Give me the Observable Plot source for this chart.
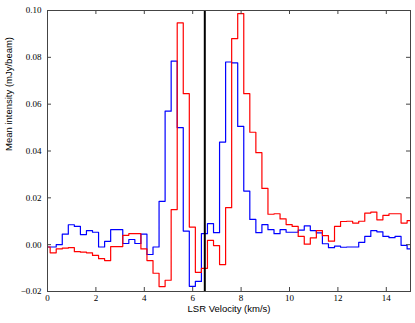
<!DOCTYPE html>
<html><head><meta charset="utf-8">
<script src="https://cdn.jsdelivr.net/npm/d3@7"></script>
<script src="https://cdn.jsdelivr.net/npm/@observablehq/plot@0.6"></script>
<style>body{margin:0;background:#fff}</style>
</head><body><div id="chart"></div><script>
// channel left edges (km/s)
const velocity = [-0.14, 0.11, 0.36, 0.61, 0.86, 1.11, 1.36, 1.61, 1.86, 2.11, 2.36, 2.61, 2.86, 3.11, 3.36, 3.61, 3.86, 4.11, 4.36, 4.61, 4.86, 5.11, 5.36, 5.61, 5.86, 6.11, 6.36, 6.61, 6.86, 7.11, 7.36, 7.61, 7.86, 8.11, 8.36, 8.61, 8.86, 9.11, 9.36, 9.61, 9.86, 10.11, 10.36, 10.61, 10.86, 11.11, 11.36, 11.61, 11.86, 12.11, 12.36, 12.61, 12.86, 13.11, 13.36, 13.61, 13.86, 14.11, 14.36, 14.61, 14.86, 15.11];
const blueSeries = [-0.001, -0.001, 0.0, 0.0045, 0.0085, 0.0078, 0.0043, 0.006, 0.0053, -0.001,
  0.0014, 0.0064, 0.0064, 0.0005, 0.0022, 0.0005, 0.0045, -0.0042, -0.001, 0.0185,
  0.057, 0.0784, 0.050, 0.0058, -0.0178, -0.0157, 0.0047, 0.009, 0.0051, 0.0438,
  0.078, 0.0776, 0.0505, 0.0229, 0.0108, 0.0051, 0.0086, 0.0064, 0.0047, 0.0064,
  0.0053, 0.0053, 0.0062, 0.008, 0.006, 0.005, 0.0004, -0.0013, -0.0006, -0.0011,
  -0.001, -0.001, 0.001, 0.0035, 0.006, 0.0055, 0.0035, 0.003, 0.0035, -0.0003,
  -0.0018];
const redSeries = [-0.001, -0.0035, -0.0018, -0.0015, -0.0013, -0.003, -0.0032, -0.0035, -0.0046, -0.006,
  -0.0068, -0.0008, -0.0008, 0.004, 0.0047, 0.0047, -0.0018, -0.0068, -0.0122, -0.0179,
  -0.0152, 0.015, 0.0947, 0.0645, 0.0075, -0.0118, -0.0101, 0.0018, -0.0004, -0.0085,
  0.0158, 0.088, 0.0987, 0.0645, 0.048, 0.0393, 0.024, 0.013, 0.0132, 0.011,
  0.0086, 0.0078, 0.0035, 0.0002, 0.0029, 0.006, 0.0039, 0.0015, 0.0078, 0.0099,
  0.010, 0.0092, 0.010, 0.0135, 0.0139, 0.0106, 0.0125, 0.0132, 0.0132, 0.0092,
  0.0103];
const markerVelocity = [6.5];
const xTicks = [0, 2, 4, 6, 8, 10, 12, 14];
const yTicks = [-0.02, 0.00, 0.02, 0.04, 0.06, 0.08, 0.10];
const xLabel = "LSR Velocity (km/s)";
const yLabel = "Mean intensity (mJy/beam)";

const rows = velocity.map((v, i) => ({
  v,
  blue: blueSeries[Math.min(i, blueSeries.length - 1)],
  red: redSeries[Math.min(i, redSeries.length - 1)]
}));

const W = 415, H = 323, mL = 47, mR = 5, mT = 10, mB = 32;
const fw = W - mL - mR, fh = H - mT - mB;
const tk = 4;
const frameColor = "#444";
const serif = "'Liberation Serif', 'DejaVu Serif', serif";
const sans = "'Liberation Sans', Arial, sans-serif";

const chart = Plot.plot({
  width: W, height: H,
  marginLeft: mL, marginRight: mR, marginTop: mT, marginBottom: mB,
  style: {background: "#fff"},
  x: {domain: [0, 15]},
  y: {domain: [-0.02, 0.10]},
  marks: [
    Plot.line(rows, {x: "v", y: "blue", curve: "step-after", stroke: "#0000ff", strokeWidth: 1.2, clip: true}),
    Plot.line(rows, {x: "v", y: "red", curve: "step-after", stroke: "#ff0000", strokeWidth: 1.2, clip: true}),
    Plot.ruleX(markerVelocity, {stroke: "black", strokeWidth: 2}),
    Plot.tickX(xTicks, {x: d => d, insetTop: fh - tk, stroke: frameColor}),
    Plot.tickX(xTicks, {x: d => d, insetBottom: fh - tk, stroke: frameColor}),
    Plot.tickY(yTicks, {y: d => d, insetRight: fw - tk, stroke: frameColor}),
    Plot.tickY(yTicks, {y: d => d, insetLeft: fw - tk, stroke: frameColor}),
    Plot.frame({stroke: frameColor, strokeWidth: 1}),
    Plot.axisX(xTicks, {tickSize: 0, tickPadding: 3, fontFamily: serif, fontSize: 9, label: null, fill: "#000"}),
    Plot.axisY(yTicks, {tickSize: 0, tickPadding: 6, tickFormat: d3.format(".2f"), fontFamily: serif, fontSize: 9, label: null, fill: "#000"}),
    Plot.text([xLabel], {frameAnchor: "bottom", dy: 20, fontFamily: sans, fontSize: 9.5, fill: "#000"}),
    Plot.text([yLabel], {frameAnchor: "left", dx: -39, rotate: -90, fontFamily: sans, fontSize: 9.5, fill: "#000"})
  ]
});
document.getElementById("chart").appendChild(chart);
</script></body></html>
